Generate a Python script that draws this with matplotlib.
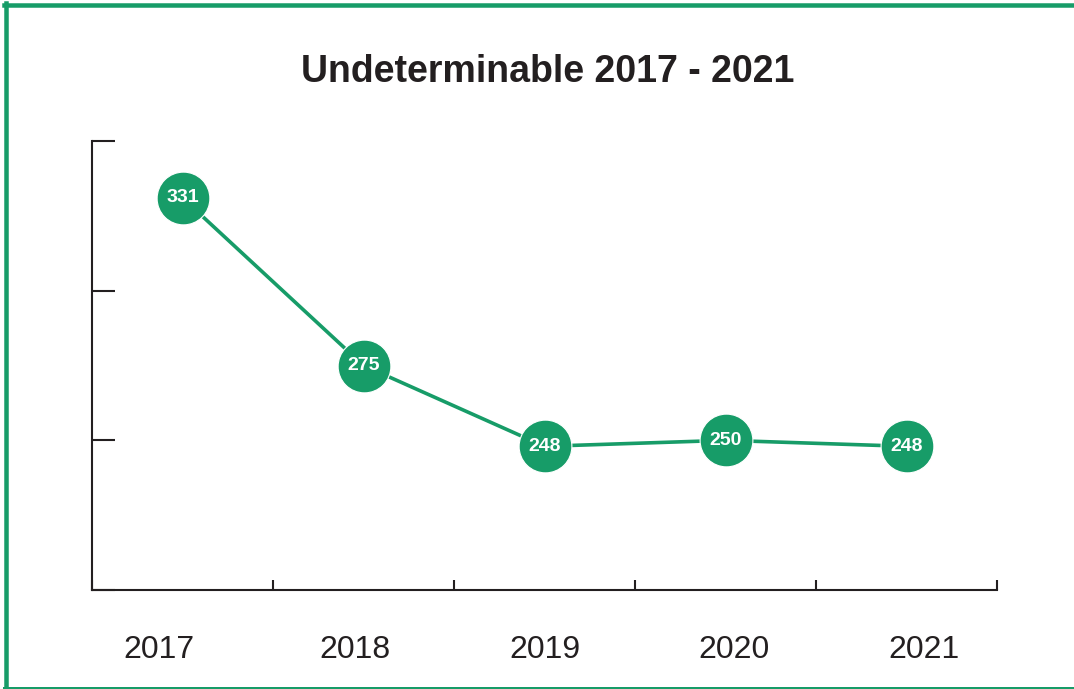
import matplotlib.pyplot as plt
from matplotlib.lines import Line2D

plt.rcParams['font.family'] = ['Liberation Sans', 'DejaVu Sans']

years = ['2017', '2018', '2019', '2020', '2021']
values = [331, 275, 248, 250, 248]
title = 'Undeterminable 2017 - 2021'

green = '#179c68'
dark = '#231f20'

fig = plt.figure(figsize=(10.74, 6.89), dpi=100)
ax = fig.add_axes([92 / 1074, 99 / 689, 905 / 1074, 449 / 689])

xs = [i + 0.5 for i in range(len(years))]
ax.plot(xs, values, color=green, lw=2.6, marker='o', markersize=38,
        markerfacecolor=green, markeredgecolor='white', markeredgewidth=0.8,
        zorder=3)
for x, v in zip(xs, values):
    ax.text(x, v, str(v), color='white', fontsize=14, fontweight='bold',
            ha='center', va='center', zorder=4)

ax.set_xlim(0, 5)
ax.set_ylim(200, 350)
ax.set_xticks(range(6))
ax.set_yticks([200, 250, 300, 350])
ax.set_xticklabels([])
ax.set_yticklabels([])
ax.tick_params(axis='x', direction='in', length=7, width=1.5, color=dark)
ax.tick_params(axis='y', direction='in', length=16.5, width=1.5, color=dark)
for s in ['top', 'right']:
    ax.spines[s].set_visible(False)
for s in ['left', 'bottom']:
    ax.spines[s].set_color(dark)
    ax.spines[s].set_linewidth(1.5)

# year labels under the axis, slightly shifted like the original
label_shift = [-24, -9, 0, 8, 17]
for x, y, dx in zip(xs, years, label_shift):
    ax.annotate(y, xy=(x, 0), xycoords=('data', 'axes fraction'),
                xytext=(dx * 0.72, -60 * 0.72), textcoords='offset points',
                ha='center', va='center', fontsize=23, color=dark)

fig.text(548 / 1074, 1 - 72 / 689, title, ha='center', va='center',
         fontsize=27, fontweight='bold', color=dark)

# green frame (top, left, bottom)
fig.add_artist(Line2D([6 / 1074, 6 / 1074], [0, 1 - 3 / 689], color=green,
                      lw=4.5 * 0.72, transform=fig.transFigure))
fig.add_artist(Line2D([4 / 1074, 1], [1 - 5 / 689, 1 - 5 / 689], color=green,
                      lw=4.5 * 0.72, transform=fig.transFigure))
fig.add_artist(Line2D([4 / 1074, 1], [1.5 / 689, 1.5 / 689], color=green,
                      lw=3 * 0.72, transform=fig.transFigure))

fig.savefig('out.png', dpi=100, facecolor='white')
